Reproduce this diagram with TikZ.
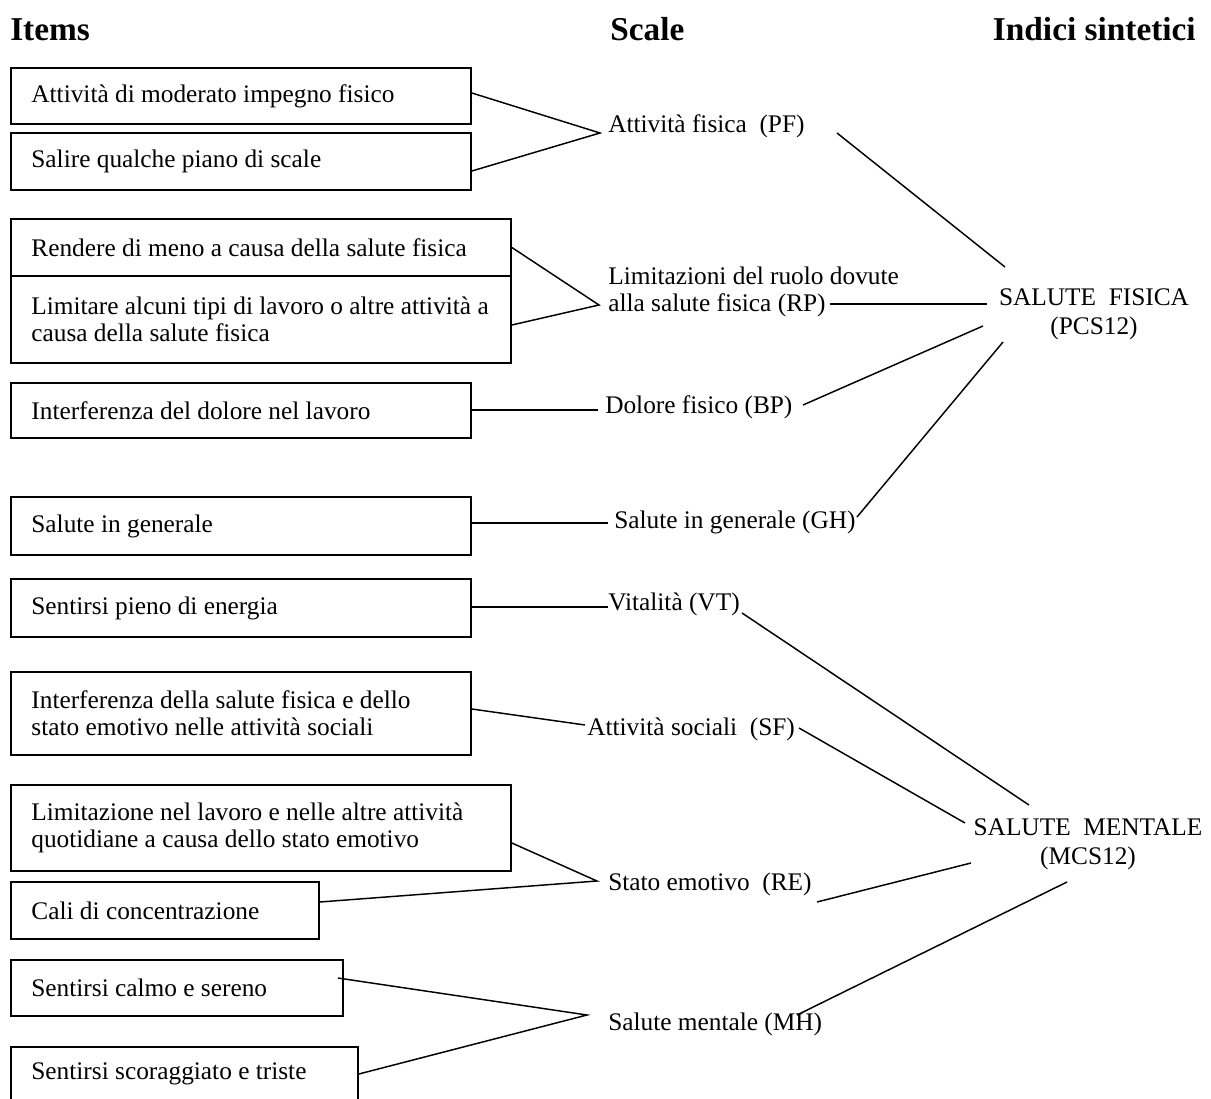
\documentclass[tikz,border=0pt]{standalone}
\usepackage{fontspec}
\setmainfont{Liberation Serif}
\usetikzlibrary{fit,calc}
\begin{document}
\begin{tikzpicture}[x=0.75pt,y=-0.75pt,
  box/.style={draw,line width=1.3pt,rectangle,inner sep=0pt},
  itxt/.style={anchor=west,inner sep=0pt,align=left,font=\fontsize{19}{20.25}\selectfont},
  stxt/.style={anchor=west,inner sep=0pt,align=left,font=\fontsize{19}{20.25}\selectfont},
  ctxt/.style={inner sep=0pt,align=center,font=\fontsize{19}{21.5}\selectfont},
  head/.style={anchor=base west,inner sep=0pt,font=\fontsize{25}{30}\selectfont\bfseries},
  conn/.style={line width=1.1pt}]
\useasboundingbox (0,0) rectangle (1211,1099);
% headings
\node[head] (h1) at (10,41) {Items};
\node[head] (h2) at (610,41) {Scale};
\node[head,anchor=base east] (h3) at (1196,41) {Indici sintetici};
% item boxes
\node[box,fit={(11,68) (471,124)}] (b1) {};
\node[box,fit={(11,133) (471,190)}] (b2) {};
\node[box,fit={(11,219) (511,276)}] (b3) {};
\node[box,fit={(11,276) (511,363)}] (b4) {};
\node[box,fit={(11,383) (471,438)}] (b5) {};
\node[box,fit={(11,497) (471,555)}] (b6) {};
\node[box,fit={(11,579) (471,637)}] (b7) {};
\node[box,fit={(11,672) (471,755)}] (b8) {};
\node[box,fit={(11,785) (511,871)}] (b9) {};
\node[box,fit={(11,882) (319,939)}] (b10) {};
\node[box,fit={(11,960) (343,1016)}] (b11) {};
\node[box,fit={(11,1047) (358,1101)}] (b12) {};
% item texts
\node[itxt] (t1) at ([xshift=15.75pt]b1.west) {Attività di moderato impegno fisico};
\node[itxt] (t2) at ([xshift=15.75pt]b2.west) {Salire qualche piano di scale};
\node[itxt] (t3) at ([xshift=15.75pt]b3.west) {Rendere di meno a causa della salute fisica};
\node[itxt] (t4) at ([xshift=15.75pt]b4.west) {Limitare alcuni tipi di lavoro o altre attività a\\causa della salute fisica};
\node[itxt] (t5) at ([xshift=15.75pt]b5.west) {Interferenza del dolore nel lavoro};
\node[itxt] (t6) at ([xshift=15.75pt]b6.west) {Salute in generale};
\node[itxt] (t7) at ([xshift=15.75pt]b7.west) {Sentirsi pieno di energia};
\node[itxt] (t8) at ([xshift=15.75pt]b8.west) {Interferenza della salute fisica e dello\\stato emotivo nelle attività sociali};
\node[itxt] (t9) at ([xshift=15.75pt]b9.west) {Limitazione nel lavoro e nelle altre attività\\quotidiane a causa dello stato emotivo};
\node[itxt] (t10) at ([xshift=15.75pt]b10.west) {Cali di concentrazione};
\node[itxt] (t11) at ([xshift=15.75pt]b11.west) {Sentirsi calmo e sereno};
\node[itxt] (t12) at ([xshift=15.75pt]b12.west) {Sentirsi scoraggiato e triste};
% scale labels
\node[stxt] (pf) at (608,126) {Attività fisica\ \ (PF)};
\node[stxt] (rp) at (608,291.5) {Limitazioni del ruolo dovute\\alla salute fisica (RP)};
\node[stxt] (bp) at (605,407) {Dolore fisico (BP)};
\node[stxt] (gh) at (614,522) {Salute in generale (GH)};
\node[stxt] (vt) at (608,604) {Vitalità (VT)};
\node[stxt] (sfa) at (587,729) {Attività sociali\ \ (SF)};
\node[stxt] (re) at (608,884) {Stato emotivo\ \ (RE)};
\node[stxt] (mh) at (608,1024) {Salute mentale (MH)};
% summary indices
\node[ctxt] (pcs) at (1094,314) {SALUTE\ \ FISICA\\(PCS12)};
\node[ctxt] (mcs) at (1088,844) {SALUTE\ \ MENTALE\\(MCS12)};
% connector points
\coordinate (aPF) at (600,133);
\coordinate (aRP) at (599,305);
\coordinate (aRE) at (597,881);
\coordinate (aMH) at (587,1015);
\coordinate (bpL) at (598,410);
\coordinate (ghL) at (608,523);
\coordinate (vtL) at (608,607);
\coordinate (sfL) at (585,725);
\coordinate (pf1) at (837,133);  \coordinate (pf2) at (1005,267);
\coordinate (rp1) at (830,304);  \coordinate (rp2) at (987,304);
\coordinate (bp1) at (803,405);  \coordinate (bp2) at (983,326);
\coordinate (gh1) at (857,517);  \coordinate (gh2) at (1003,342);
\coordinate (vt1) at (742,613);  \coordinate (vt2) at (1029,805);
\coordinate (sf1) at (799,728);  \coordinate (sf2) at (965,823);
\coordinate (re1) at (817,902);  \coordinate (re2) at (971,863);
\coordinate (mh1) at (797,1015); \coordinate (mh2) at (1067,882);
% items -> scales
\draw[conn] ($(b1.east)+(0,-3)$) -- (aPF) -- ($(b2.east)+(0,9.5)$);
\draw[conn] (b3.east) -- (aRP) -- ($(b4.east)+(0,5.5)$);
\draw[conn] (b5.east |- bpL) -- (bpL);
\draw[conn] (b6.east |- ghL) -- (ghL);
\draw[conn] (b7.east |- vtL) -- (vtL);
\draw[conn] ($(b8.east)+(0,-4.5)$) -- (sfL);
\draw[conn] ($(b9.east)+(0,15)$) -- (aRE) -- ($(b10.east)+(0,-8.5)$);
\draw[conn] ($(b11.east)+(-6,-10)$) -- (aMH) -- (b12.east);
% scales -> indices
\draw[conn] (pf1) -- (pf2);
\draw[conn] (rp1) -- (rp2);
\draw[conn] (bp1) -- (bp2);
\draw[conn] (gh1) -- (gh2);
\draw[conn] (vt1) -- (vt2);
\draw[conn] (sf1) -- (sf2);
\draw[conn] (re1) -- (re2);
\draw[conn] (mh1) -- (mh2);
\end{tikzpicture}
\end{document}
